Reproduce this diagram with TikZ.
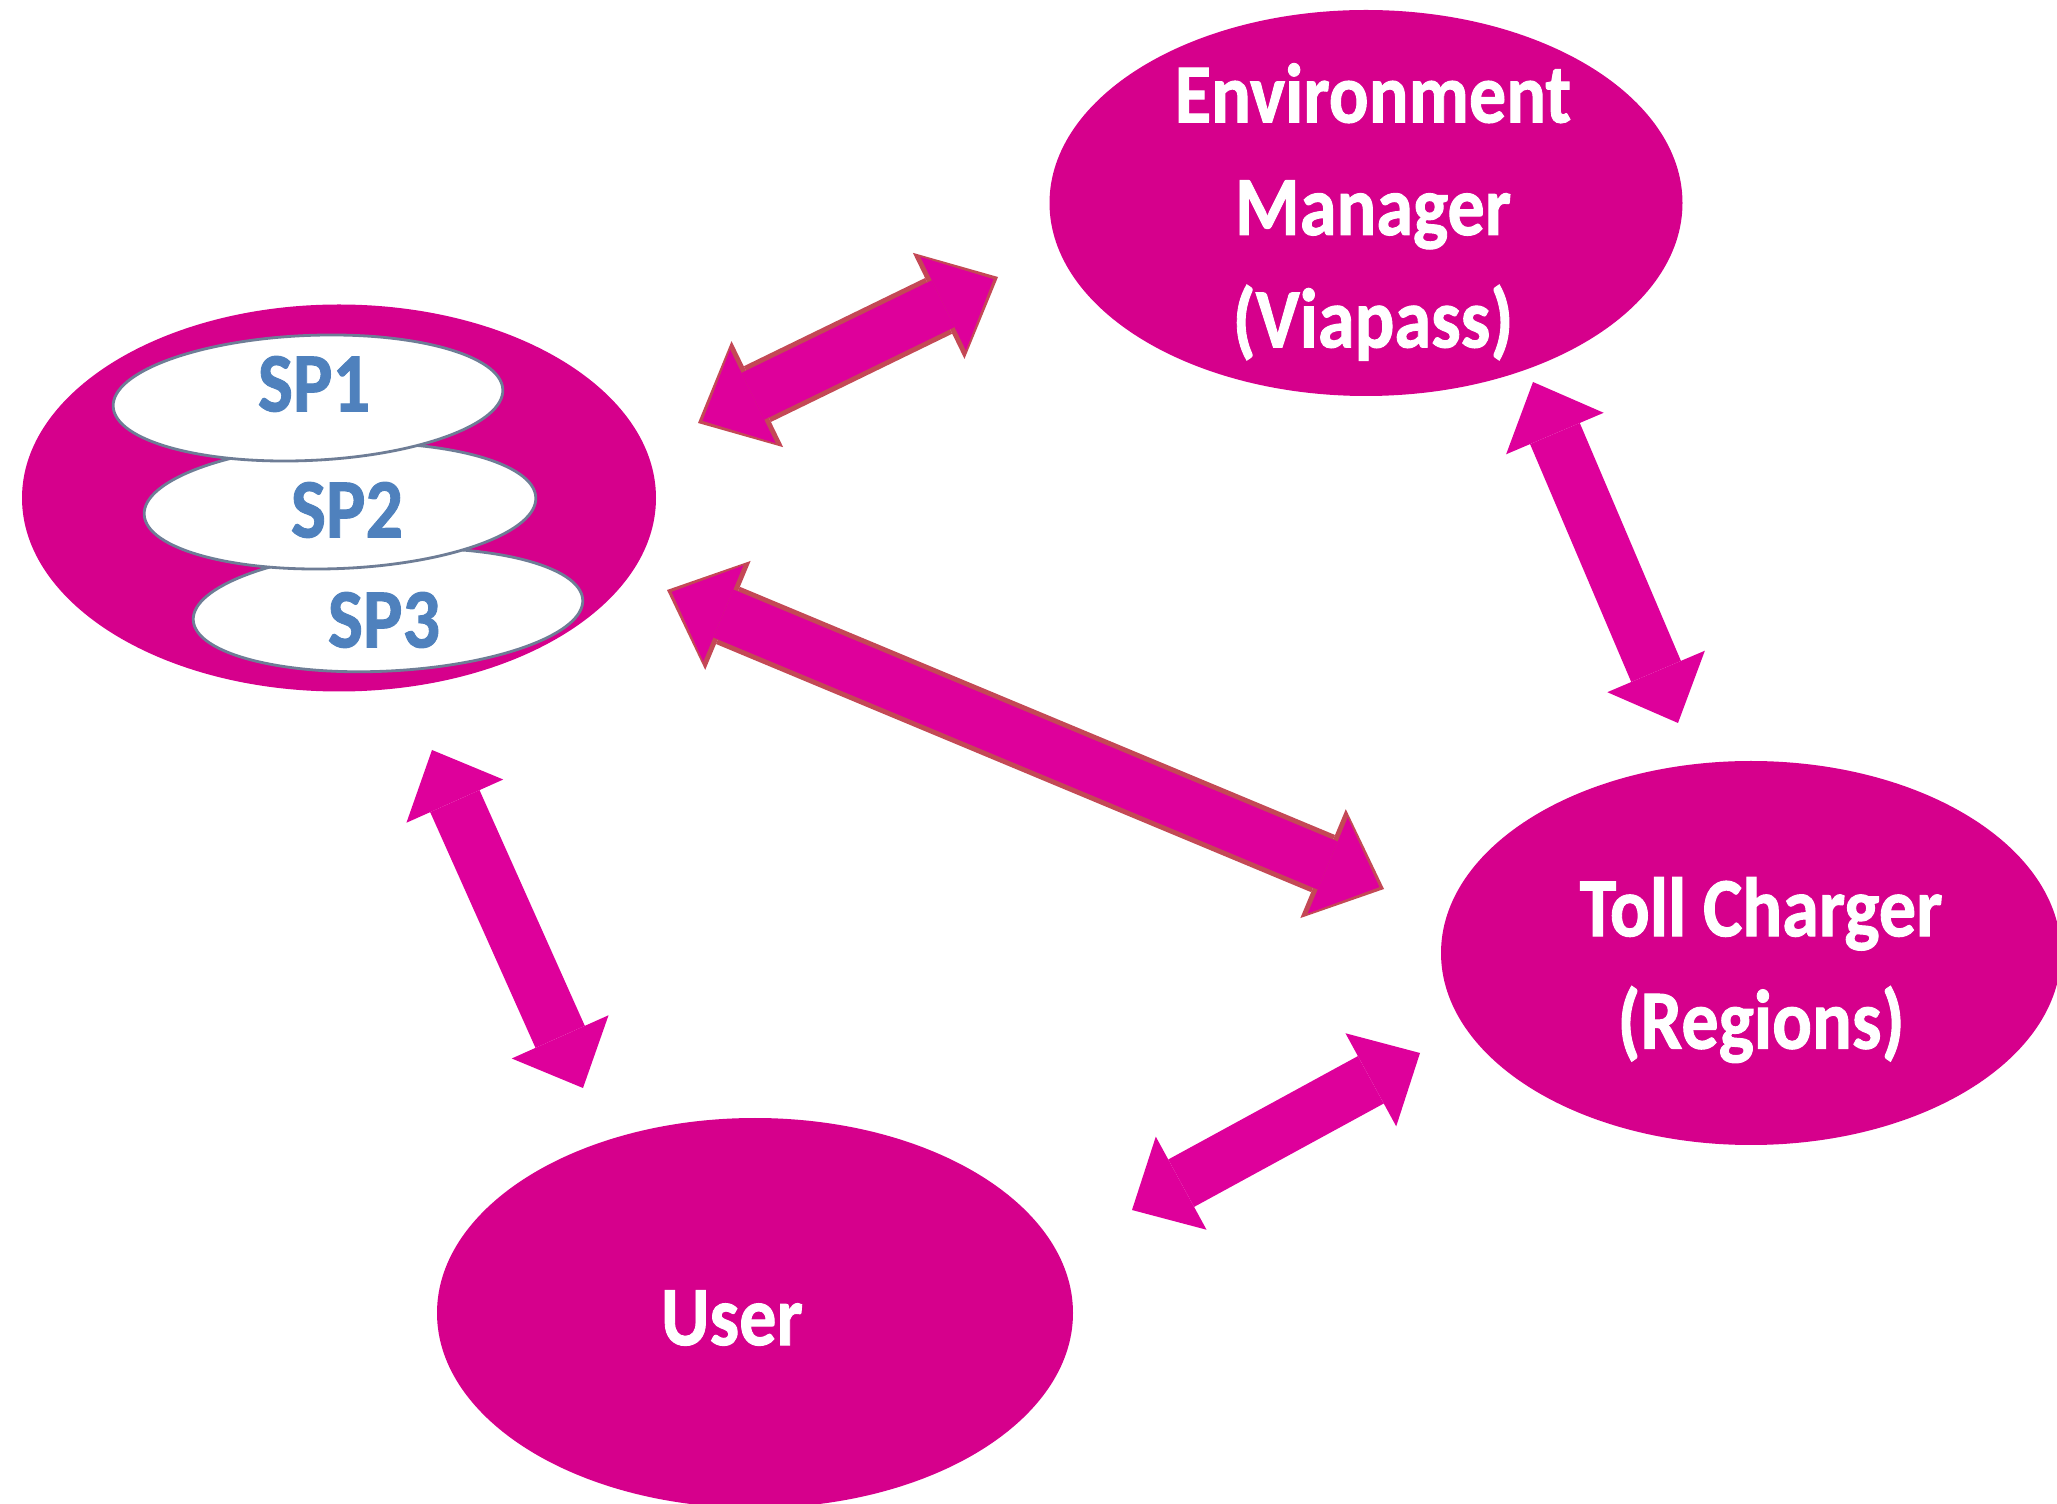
\documentclass[tikz,border=0pt]{standalone}
\usepackage{fontspec}
\setmainfont{Carlito}[BoldFeatures={FakeBold=1.2}]
\usepackage{tikz}
\usetikzlibrary{arrows.meta,shapes.geometric}
\definecolor{ovalpink}{RGB}{214,0,140}
\definecolor{arrowpink}{RGB}{222,0,155}
\definecolor{edgebrown}{RGB}{196,72,86}
\definecolor{spblue}{RGB}{79,129,189}
\definecolor{spedge}{RGB}{110,125,150}

\begin{document}
\begin{tikzpicture}
\useasboundingbox (0,0) rectangle (20.57,15.03);
\tikzstyle{oval} = [ellipse, fill=ovalpink, inner sep=0cm]
\tikzstyle{spoval} = [ellipse, fill=white, draw=spedge, line width=0.8pt, inner sep=0cm]
\tikzstyle{whitetext} = [text=white, font=\bfseries\fontsize{24}{32}\selectfont, align=center, inner sep=0cm, xscale=0.88, transform shape]
\tikzstyle{bluetext} = [text=spblue, font=\bfseries\fontsize{24}{32}\selectfont, inner sep=0cm, xscale=0.88, transform shape]
% the parties
\node[oval, minimum width=6.33cm, minimum height=3.86cm] (env) at (13.66,13.00) {};
\node[oval, minimum width=6.34cm, minimum height=3.87cm] (sp) at (3.39,10.05) {};
\node[oval, minimum width=6.20cm, minimum height=3.84cm] (toll) at (17.51,5.50) {};
\node[oval, minimum width=6.36cm, minimum height=3.90cm] (user) at (7.55,1.90) {};
% service providers, lowest first
\node[spoval, rotate=3, minimum width=3.90cm, minimum height=1.22cm] (sp3) at (3.88,8.93) {};
\node[spoval, rotate=2.5, minimum width=3.92cm, minimum height=1.25cm] (sp2) at (3.40,9.97) {};
\node[spoval, rotate=2.5, minimum width=3.90cm, minimum height=1.25cm] (sp1) at (3.08,11.05) {};
\node[bluetext] (sp1txt) at (3.14,11.19) {SP1};
\node[bluetext] (sp2txt) at (3.47,9.93) {SP2};
\node[bluetext] (sp3txt) at (3.84,8.83) {SP3};
\node[whitetext] (envtxt) at (13.73,12.91) {Environment\\Manager\\(Viapass)};
\node[whitetext] (tolltxt) at (17.61,5.33) {Toll Charger\\(Regions)};
\node[whitetext] (usertxt) at (7.32,1.85) {User};
% arrow ends
\coordinate (spenv1) at (6.98,10.80);
\coordinate (spenv2) at (9.98,12.26);
\coordinate (sptoll1) at (6.67,9.13);
\coordinate (sptoll2) at (13.84,6.14);
\coordinate (envtoll1) at (15.33,11.21);
\coordinate (envtoll2) at (16.78,7.80);
\coordinate (spuser1) at (4.32,7.53);
\coordinate (spuser2) at (5.83,4.15);
\coordinate (usertoll1) at (11.32,2.93);
\coordinate (usertoll2) at (14.20,4.50);
\tikzstyle{link} = [draw=arrowpink, line width=0.54cm, >={Triangle[width=1.06cm, length=0.56cm, line width=0pt]}, <->]
\tikzstyle{linkedge} = [draw=edgebrown, line width=0.62cm, >={Triangle[width=1.18cm, length=0.66cm, line width=0pt]}, <->]
\tikzstyle{linkinner} = [draw=arrowpink, line width=0.52cm, >={Triangle[width=1.04cm, length=0.56cm, line width=0pt]}, <->, shorten <=0.05cm, shorten >=0.05cm]
\draw[linkedge] (spenv1) -- (spenv2);
\draw[linkinner] (spenv1) -- (spenv2);
\draw[linkedge] (sptoll1) -- (sptoll2);
\draw[linkinner] (sptoll1) -- (sptoll2);
\draw[link] (envtoll1) -- (envtoll2);
\draw[link] (spuser1) -- (spuser2);
\draw[link] (usertoll1) -- (usertoll2);
\end{tikzpicture}
\end{document}
